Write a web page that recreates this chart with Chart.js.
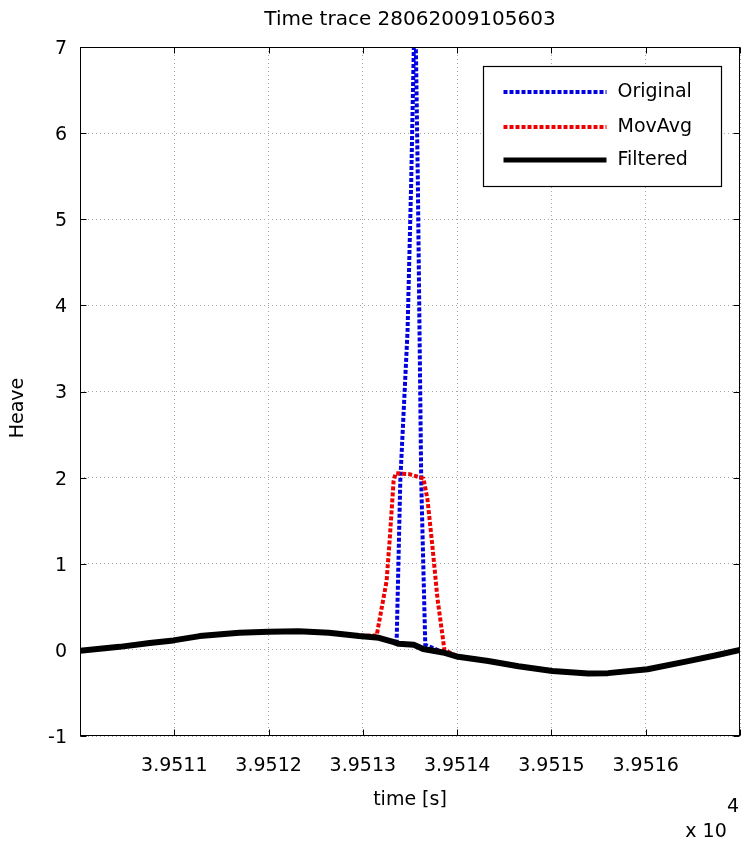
<!DOCTYPE html>
<html><head><meta charset="utf-8">
<script src="https://cdn.jsdelivr.net/npm/chart.js@4.4.0/dist/chart.umd.min.js"></script>
<style>html,body{margin:0;padding:0;background:#fff;}#wrap{width:741px;height:848px;}</style>
</head><body><div id="wrap"><canvas id="c" width="741" height="848"></canvas></div>
<script>
const FONT = '"DejaVu Sans", "Liberation Sans", Arial, sans-serif';
const titleText = 'Time trace 28062009105603';
const xLabel = 'time [s]';
const yLabel = 'Heave';
const seriesNames = ['Original', 'MovAvg', 'Filtered'];
const xMin = 39510, xMax = 39517;
const yMin = -1, yMax = 7;

const filteredX = [39510.00, 39510.42, 39510.74, 39510.99, 39511.27, 39511.69, 39512.00, 39512.32, 39512.64, 39512.96, 39513.17, 39513.33, 39513.38, 39513.54, 39513.64, 39513.85, 39514.01, 39514.33, 39514.65, 39515.01, 39515.39, 39515.60, 39516.02, 39516.45, 39516.76, 39517.00];
const filteredY = [-0.01, 0.035, 0.08, 0.11, 0.16, 0.20, 0.21, 0.215, 0.20, 0.16, 0.14, 0.09, 0.07, 0.06, 0.01, -0.03, -0.08, -0.13, -0.19, -0.245, -0.275, -0.27, -0.225, -0.13, -0.06, 0.00];

const originalX = [39510.00, 39510.42, 39510.74, 39510.99, 39511.27, 39511.69, 39512.00, 39512.32, 39512.64, 39512.96, 39513.17, 39513.358, 39513.397, 39513.474, 39513.513, 39513.553, 39513.583, 39513.601, 39513.619, 39513.662, 39513.85, 39514.01, 39514.33, 39514.65, 39515.01, 39515.39, 39515.60, 39516.02, 39516.45, 39516.76, 39517.00];
const originalY = [-0.01, 0.035, 0.08, 0.11, 0.16, 0.20, 0.21, 0.215, 0.20, 0.16, 0.14, 0.08, 1.96, 3.70, 5.45, 7.70, 5.45, 3.70, 1.96, 0.06, -0.03, -0.08, -0.13, -0.19, -0.245, -0.275, -0.27, -0.225, -0.13, -0.06, 0.00];

const movAvgX = [39510.00, 39510.42, 39510.74, 39510.99, 39511.27, 39511.69, 39512.00, 39512.32, 39512.64, 39512.96, 39513.147, 39513.252, 39513.284, 39513.326, 39513.347, 39513.495, 39513.643, 39513.685, 39513.738, 39513.791, 39513.865, 39514.01, 39514.33, 39514.65, 39515.01, 39515.39, 39515.60, 39516.02, 39516.45, 39516.76, 39517.00];
const movAvgY = [-0.01, 0.035, 0.08, 0.11, 0.16, 0.20, 0.21, 0.215, 0.20, 0.16, 0.17, 0.80, 1.27, 1.96, 2.05, 2.04, 1.99, 1.75, 1.20, 0.60, 0.00, -0.08, -0.13, -0.19, -0.245, -0.275, -0.27, -0.225, -0.13, -0.06, 0.00];

const toPts = (xs, ys) => xs.map((x, i) => ({x: x, y: ys[i]}));

const framePlugin = {
  id: 'frame',
  afterDraw(chart) {
    const ctx = chart.ctx, ca = chart.chartArea;
    const xs = chart.scales.x, ys = chart.scales.y;
    ctx.save();
    ctx.strokeStyle = '#000';
    ctx.lineWidth = 1;
    ctx.setLineDash([]);
    const L = Math.round(ca.left) + 0.5, R = Math.round(ca.right) - 0.5;
    const T = Math.round(ca.top) + 0.5, B = Math.round(ca.bottom) - 0.5;
    ctx.strokeRect(L, T, R - L, B - T);
    const tl = 6;
    ctx.beginPath();
    xs.ticks.forEach(t => {
      const px = Math.round(xs.getPixelForValue(t.value)) + 0.5;
      ctx.moveTo(px, B); ctx.lineTo(px, B - tl);
      ctx.moveTo(px, T); ctx.lineTo(px, T + tl);
    });
    ys.ticks.forEach(t => {
      const py = Math.round(ys.getPixelForValue(t.value)) + 0.5;
      ctx.moveTo(L, py); ctx.lineTo(L + tl, py);
      ctx.moveTo(R, py); ctx.lineTo(R - tl, py);
    });
    ctx.stroke();

    // axis labels and exponent
    ctx.fillStyle = '#000';
    ctx.font = '19px ' + FONT;
    ctx.textAlign = 'center';
    ctx.textBaseline = 'middle';
    ctx.save();
    ctx.translate(18, 408);
    ctx.rotate(-Math.PI / 2);
    ctx.fillText(yLabel, 0, 0);
    ctx.restore();
    ctx.fillText(xLabel, (ca.left + ca.right) / 2, 800);
    ctx.fillText('4', 733, 807);
    ctx.fillText('x 10', 706, 832);

    // legend
    const bx = Math.round(ca.right - 257) + 0.5, by = Math.round(ca.top + 19) + 0.5;
    const bw = 238, bh = 120;
    ctx.fillStyle = '#fff';
    ctx.fillRect(bx, by, bw, bh);
    ctx.strokeStyle = '#000';
    ctx.lineWidth = 1.2;
    ctx.strokeRect(bx, by, bw, bh);
    const rows = [45, 80, 113];
    chart.data.datasets.forEach((ds, i) => {
      const ry = ca.top + rows[i];
      ctx.save();
      ctx.strokeStyle = ds.borderColor;
      ctx.lineWidth = i === 2 ? 5 : ds.borderWidth;
      ctx.setLineDash(ds.borderDash || []);
      ctx.lineCap = 'butt';
      ctx.beginPath();
      ctx.moveTo(bx + 20, ry);
      ctx.lineTo(bx + 123, ry);
      ctx.stroke();
      ctx.restore();
      ctx.fillStyle = '#000';
      ctx.font = '19px ' + FONT;
      ctx.textAlign = 'left';
      ctx.textBaseline = 'middle';
      ctx.fillText(ds.label, bx + 134, ry);
    });
    ctx.restore();
  }
};

new Chart(document.getElementById('c'), {
  type: 'line',
  data: {
    datasets: [
      {label: seriesNames[0], data: toPts(originalX, originalY), borderColor: '#0000e0', borderWidth: 4, borderDash: [4, 2], pointRadius: 0, tension: 0, fill: false, order: 2, borderCapStyle: 'butt', borderJoinStyle: 'miter'},
      {label: seriesNames[1], data: toPts(movAvgX, movAvgY), borderColor: '#ee0000', borderWidth: 4, borderDash: [4, 2], pointRadius: 0, tension: 0, fill: false, order: 1, borderCapStyle: 'butt', borderJoinStyle: 'miter'},
      {label: seriesNames[2], data: toPts(filteredX, filteredY), borderColor: '#000000', borderWidth: 6, pointRadius: 0, tension: 0, fill: false, order: 0, borderCapStyle: 'round', borderJoinStyle: 'round'}
    ]
  },
  options: {
    responsive: false,
    animation: false,
    devicePixelRatio: 1,
    layout: {padding: {left: 0, right: 1, top: 0, bottom: 0}},
    plugins: {
      legend: {display: false},
      tooltip: {enabled: false},
      title: {display: true, fullSize: false, text: titleText, color: '#000', font: {family: FONT, size: 20, weight: 'normal'}, padding: {top: 8, bottom: 15}}
    },
    scales: {
      x: {
        type: 'linear', min: xMin, max: xMax,
        afterFit: s => { s.height = 112; s.paddingLeft = 0; s.paddingRight = 0; },
        ticks: {stepSize: 1, autoSkip: false, maxRotation: 0, color: '#000', padding: 19, font: {family: FONT, size: 19},
          callback: v => (v === xMin || v === xMax) ? '' : (v / 10000).toFixed(4)},
        grid: {color: '#a8a8a8', lineWidth: 1, drawTicks: false},
        border: {display: false, dash: [1, 3]}
      },
      y: {
        type: 'linear', min: yMin, max: yMax,
        afterFit: s => { s.width = 80; s.paddingTop = 0; s.paddingBottom = 0; },
        ticks: {stepSize: 1, color: '#000', padding: 13, labelOffset: 2, font: {family: FONT, size: 19}},
        grid: {color: '#a8a8a8', lineWidth: 1, drawTicks: false},
        border: {display: false, dash: [1, 3]}
      }
    }
  },
  plugins: [framePlugin]
});
</script></body></html>
